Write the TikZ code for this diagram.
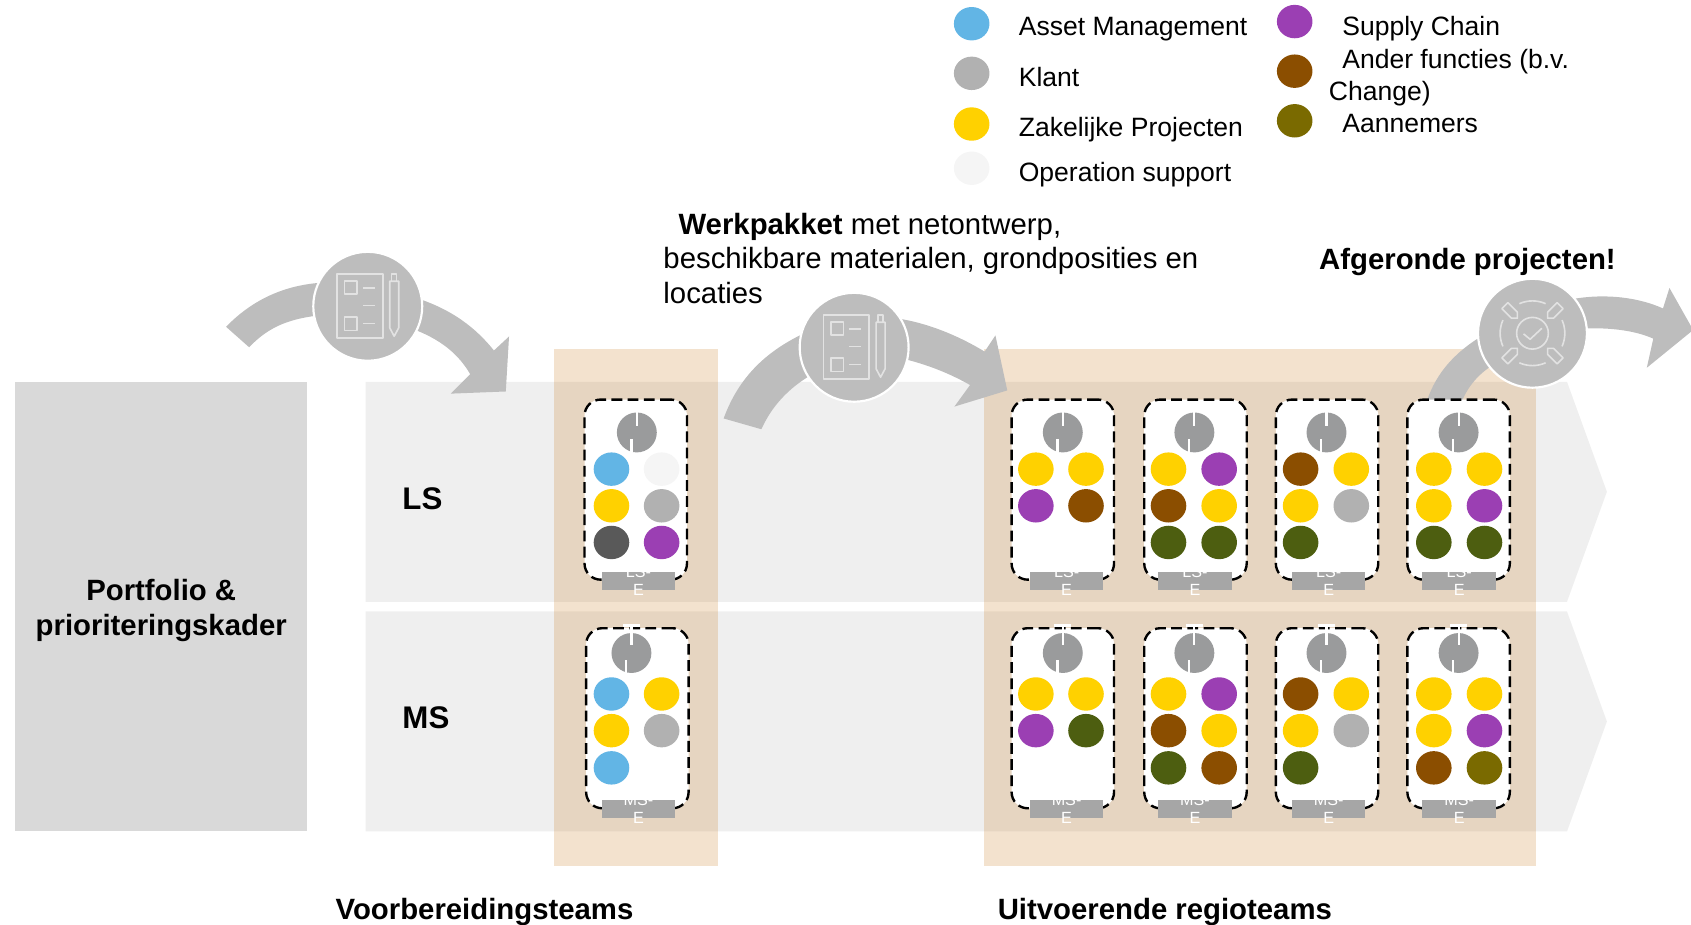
\documentclass[tikz,border=0pt]{standalone}
\usepackage{fontspec}
\setmainfont{Liberation Sans}
\definecolor{amblue}{HTML}{62B5E5}
\definecolor{klgrey}{HTML}{B1B1B1}
\definecolor{zpyellow}{HTML}{FFD100}
\definecolor{oplight}{HTML}{F5F5F5}
\definecolor{scpurple}{HTML}{9B3FB3}
\definecolor{afbrown}{HTML}{8B4E00}
\definecolor{anolive}{HTML}{7A6A00}
\definecolor{dkgreen}{HTML}{4D5E10}
\definecolor{dkgrey}{HTML}{595959}
\definecolor{headgrey}{HTML}{9A9B9C}
\definecolor{arrowgrey}{HTML}{BDBDBD}
\definecolor{bandgrey}{HTML}{EFEFEF}
\definecolor{blockgrey}{HTML}{D9D9D9}
\definecolor{taggrey}{HTML}{A6A6A6}
\definecolor{teamorange}{HTML}{C87B20}
\definecolor{iconline}{HTML}{E2E2E2}
\tikzset{
  plain/.style={font=\fontsize{24.6bp}{29bp}\selectfont,anchor=base west,inner sep=0pt},
  big/.style={font=\fontsize{27.2bp}{32bp}\selectfont,anchor=base west,inner sep=0pt},
  heavy/.style={font=\fontsize{27.2bp}{33bp}\selectfont\bfseries,anchor=base west,inner sep=0pt},
  teamcard/.style={draw=black,fill=white,line width=2.2bp,dash pattern=on 10bp off 5bp,
    rounded corners=15bp,minimum width=95bp,minimum height=167bp,inner sep=0pt},
  tagbox/.style={fill=taggrey,minimum width=68bp,minimum height=17bp,inner sep=0pt},
  tagtext/.style={text=white,font=\fontsize{15bp}{17bp}\selectfont,align=center,inner sep=0pt},
  headdot/.style={fill=headgrey,circle,minimum size=37bp,inner sep=0pt},
  stepdot/.style={fill=arrowgrey,draw=white,line width=2bp,circle,minimum size=101bp,inner sep=0pt},
  tick/.style={draw=white,line width=2bp},
  icon/.style={draw=iconline,line width=1.5bp,line join=round},
  listicon/.pic={
    \draw[icon] (-28.4,-30) rectangle (14,29.4);
    \draw[icon] (-21.6,-23.2) rectangle (-9.9,-11.4);
    \draw[icon] (-21.6,10.2) rectangle (-9.9,22.3);
    \draw[icon] (-4.6,-17) -- (6.5,-17);
    \draw[icon] (-4.6,-0.6) -- (6.5,-0.6);
    \draw[icon] (-4.6,16) -- (6.5,16);
    \draw[icon] (20.4,-23.2) -- (28.7,-23.2) -- (28.7,20) -- (24.5,27.8) -- (20.4,20) -- cycle;
    \draw[icon] (22,-23.2) -- (22,-30) -- (26.6,-30) -- (26.6,-23.2);
  },
  doneicon/.pic={
    \draw[icon] (0,0) circle (14.7);
    \draw[icon] (-8.3,0.6) -- (-2.2,5.6) -- (8.7,-4.6);
    \foreach \a in {0,90,180,270} {
      \draw[icon] (\a-24:30) arc[start angle=\a-24,end angle=\a+24,radius=30];
    }
    \foreach \a in {45,135,225,315} {
      \draw[icon,rotate=\a] (19.8,0) -- (23.8,3.9) -- (36.2,3.9) -- (36.2,-3.9) -- (23.8,-3.9) -- cycle;
    }
  },
}
\begin{document}
\begin{tikzpicture}[x=1bp,y=-1bp]
  \useasboundingbox (0,0) rectangle (1568,857.7);

  % blocks and bands
  \fill[blockgrey] (14,354) rectangle (285,771);
  \fill[bandgrey] (339,354) -- (1453,354) -- (1490,456) -- (1453,558) -- (339,558) -- cycle;
  \fill[bandgrey] (339,567) -- (1453,567) -- (1490,669) -- (1453,771) -- (339,771) -- cycle;
  \fill[teamorange,opacity=0.22] (514,324) rectangle (666,803);
  \fill[teamorange,opacity=0.22] (912,324) rectangle (1424,803);

  % curved arrows
  \fill[arrowgrey] (209.6,303) .. controls (235,277) and (265,264) .. (300,262) -- (300,292)
    .. controls (270,295) and (250,302) .. (231,322) -- cycle;
  \fill[arrowgrey] (385,276) .. controls (420,287) and (442,305) .. (458,325) -- (472,312) -- (469,363)
    -- (418,365) -- (436,347) .. controls (425,328) and (408,314) .. (380,304) -- cycle;
  \fill[arrowgrey] (671,388) .. controls (685,350) and (710,325) .. (750,307) -- (755,346)
    .. controls (730,360) and (715,378) .. (706,398) -- cycle;
  \fill[arrowgrey] (830,295) .. controls (860,299) and (890,312) .. (913,326) -- (923,311) -- (934,362)
    -- (885,377) -- (899.5,357) .. controls (880,346) and (860,338) .. (835,332) -- cycle;
  \fill[arrowgrey] (1323,372) .. controls (1332,345) and (1350,325) .. (1380,308) -- (1390,335)
    .. controls (1372,345) and (1362,357) .. (1355.5,372) -- cycle;
  \fill[arrowgrey] (1460,277) .. controls (1490,272) and (1520,276) .. (1542,286) -- (1548,267) -- (1570,306)
    -- (1527,341) -- (1533,314) .. controls (1515,306) and (1490,303) .. (1460,305) -- cycle;

  % step circles
  \node[stepdot] (listone) at (341,284) {};
  \node[stepdot] (listtwo) at (792,322) {};
  \node[stepdot] (donecheck) at (1421,309) {};
  \pic at (listone) {listicon};
  \pic at (listtwo) {listicon};
  \pic at (donecheck) {doneicon};

  % team cards
  \foreach \n/\cx/\hx/\tx in {a/589.5/590.5/592,b/985.5/985.5/989,c/1108.5/1107.5/1108,d/1230.5/1230/1232,e/1352.5/1352.5/1353} {
    \node[teamcard] (ls\n) at (\cx,454) {};
    \node[headdot] (lshead\n) at (\hx,401) {};
    \draw[tick] (\hx,382) -- (\hx,395);
    \draw[tick] (\hx-5,407) -- (\hx-5,419.5);
    \node[tagbox] (lstag\n) at (\tx,538.5) {};
    \node[tagtext] (lstext\n) at (lstag\n) {LS-\\E};
  }
  \foreach \n/\cx/\hx/\tx in {a/591/585.5/592,b/985.5/985.5/989,c/1108.5/1107.5/1108,d/1230.5/1230/1232,e/1352.5/1352.5/1353} {
    \node[teamcard] (ms\n) at (\cx,666) {};
    \node[headdot] (mshead\n) at (\hx,605.5) {};
    \draw[tick] (\hx,580) -- (\hx,598);
    \draw[tick] (\hx-8,580) -- (\hx+8,580);
    \draw[tick] (\hx-5,612) -- (\hx-5,624);
    \node[tagbox] (mstag\n) at (\tx,750) {};
    \node[tagtext] (mstext\n) at (mstag\n) {MS-\\E};
  }

  % dots in the cards
  \foreach \x/\y/\c in {
    567/435/amblue,613.5/435/oplight,567/469/zpyellow,613.5/469/klgrey,567/503/dkgrey,613.5/503/scpurple,
    960.5/435/zpyellow,1007/435/zpyellow,960.5/469/scpurple,1007/469/afbrown,
    1083.5/435/zpyellow,1130.5/435/scpurple,1083.5/469/afbrown,1130.5/469/zpyellow,1083.5/503/dkgreen,1130.5/503/dkgreen,
    1206/435/afbrown,1253/435/zpyellow,1206/469/zpyellow,1253/469/klgrey,1206/503/dkgreen,
    1329.5/435/zpyellow,1376.5/435/zpyellow,1329.5/469/zpyellow,1376.5/469/scpurple,1329.5/503/dkgreen,1376.5/503/dkgreen,
    567/643.5/amblue,613.5/643.5/zpyellow,567/677.5/zpyellow,613.5/677.5/klgrey,567/712/amblue,
    960.5/643.5/zpyellow,1007/643.5/zpyellow,960.5/677.5/scpurple,1007/677.5/dkgreen,
    1083.5/643.5/zpyellow,1130.5/643.5/scpurple,1083.5/677.5/afbrown,1130.5/677.5/zpyellow,1083.5/712/dkgreen,1130.5/712/afbrown,
    1206/643.5/afbrown,1253/643.5/zpyellow,1206/677.5/zpyellow,1253/677.5/klgrey,1206/712/dkgreen,
    1329.5/643.5/zpyellow,1376.5/643.5/zpyellow,1329.5/677.5/zpyellow,1376.5/677.5/scpurple,1329.5/712/afbrown,1376.5/712/anolive} {
    \fill[\c] (\x,\y) ellipse (16.5 and 15.5);
  }

  % legend
  \fill[amblue] (901,22) ellipse (16.5 and 15.5);
  \fill[klgrey] (901,68) ellipse (16.5 and 15.5);
  \fill[zpyellow] (901,115) ellipse (16.5 and 15.5);
  \fill[oplight] (901,156) ellipse (16.5 and 15.5);
  \fill[scpurple] (1200.5,20) ellipse (16.5 and 15.5);
  \fill[afbrown] (1200.5,66) ellipse (16.5 and 15.5);
  \fill[anolive] (1200.5,112) ellipse (16.5 and 15.5);
  \node[plain] (asset) at (944.5,32.8) {Asset Management};
  \node[plain] (klant) at (944.5,79.9) {Klant};
  \node[plain] (zakelijke) at (944.5,126.3) {Zakelijke Projecten};
  \node[plain] (operation) at (944.5,168.3) {Operation support};
  \node[plain] (supply) at (1244.5,32.8) {Supply Chain};
  \node[plain] (ander) at (1244.5,63.3) {Ander functies (b.v.};
  \node[plain] (change) at (1232,93.3) {Change)};
  \node[plain] (aannemers) at (1244.5,123) {Aannemers};

  % labels
  \node[big] (werkpakket) at (629,217.5) {\textbf{Werkpakket} met netontwerp,};
  \node[big] (beschikbare) at (615,249) {beschikbare materialen, grondposities en};
  \node[big] (locaties) at (615,281.5) {locaties};
  \node[heavy] (afgerond) at (1223,250) {Afgeronde projecten!};
  \node[heavy,font=\fontsize{29bp}{33bp}\selectfont\bfseries] (ls) at (373,472.4) {LS};
  \node[heavy,font=\fontsize{29bp}{33bp}\selectfont\bfseries] (ms) at (373,675.4) {MS};
  \node[heavy,anchor=center,align=center] (portfolio) at (149.5,566) {Portfolio \&\\prioriteringskader};
  \node[heavy] (voorbereiding) at (311,853) {Voorbereidingsteams};
  \node[heavy] (uitvoerend) at (925,853) {Uitvoerende regioteams};
\end{tikzpicture}
\end{document}
